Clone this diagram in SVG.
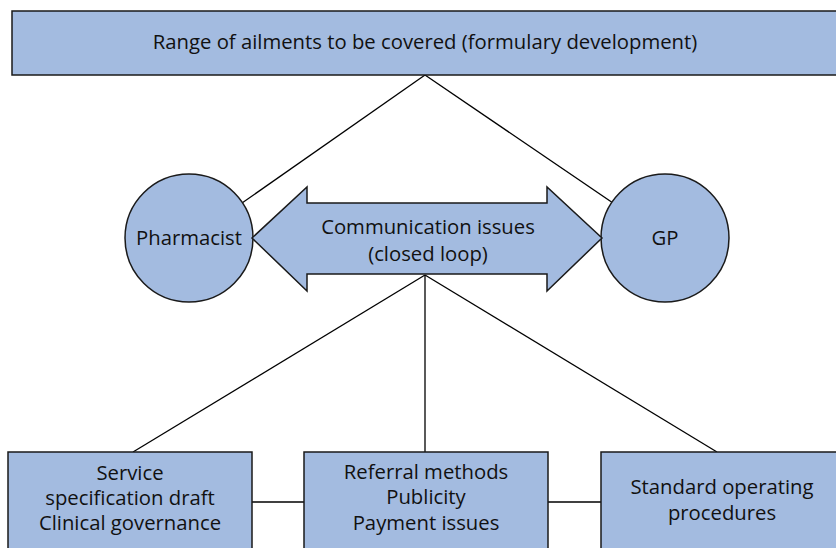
<svg xmlns="http://www.w3.org/2000/svg" width="836" height="548" viewBox="0 0 836 548">
<style>
.n{fill:#a3bbe0;stroke:#1a1a1a;stroke-width:1.5}
.c{fill:none;stroke:#000;stroke-width:1.3}
.t{font-family:"Open Sans","Liberation Sans",sans-serif;font-size:20.3px;fill:#111;text-anchor:middle}
</style>
<rect width="836" height="548" fill="#fff"/>
<g id="connectors">
<line class="c" x1="425" y1="75" x2="242" y2="203"/>
<line class="c" x1="425" y1="75" x2="613" y2="203"/>
<line class="c" x1="425" y1="275" x2="133" y2="452"/>
<line class="c" x1="425" y1="275" x2="425" y2="452"/>
<line class="c" x1="425" y1="275" x2="717" y2="452"/>
<line class="c" x1="252" y1="502" x2="304" y2="502"/>
<line class="c" x1="548" y1="502" x2="601" y2="502"/>
</g>
<g id="top">
<rect class="n" x="12" y="11" width="830" height="64"/>
<text class="t" x="425" y="49">Range of ailments to be covered (formulary development)</text>
</g>
<g id="pharmacist">
<circle class="n" cx="189" cy="238" r="64"/>
<text class="t" x="189" y="245">Pharmacist</text>
</g>
<g id="gp">
<circle class="n" cx="665" cy="238" r="64"/>
<text class="t" x="665" y="245">GP</text>
</g>
<g id="communication">
<polygon class="n" points="252,238 307,187 307,203 547,203 547,187 602,238 547,291 547,274 307,274 307,291"/>
<text class="t" x="428" y="234">Communication issues</text>
<text class="t" x="428" y="261">(closed loop)</text>
</g>
<g id="service">
<rect class="n" x="8" y="452" width="244" height="110"/>
<text class="t" x="130" y="480">Service</text>
<text class="t" x="130" y="505">specification draft</text>
<text class="t" x="130" y="530">Clinical governance</text>
</g>
<g id="referral">
<rect class="n" x="304" y="452" width="244" height="110"/>
<text class="t" x="426" y="479">Referral methods</text>
<text class="t" x="426" y="504">Publicity</text>
<text class="t" x="426" y="530">Payment issues</text>
</g>
<g id="sop">
<rect class="n" x="601" y="452" width="250" height="110"/>
<text class="t" x="722" y="494">Standard operating</text>
<text class="t" x="722" y="520">procedures</text>
</g>
</svg>
